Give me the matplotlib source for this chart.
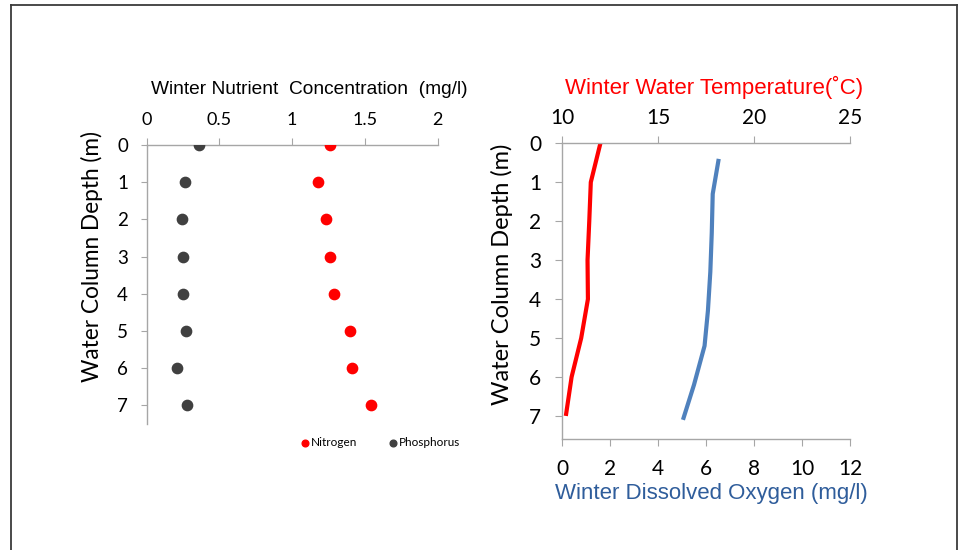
import matplotlib.pyplot as plt
from matplotlib.lines import Line2D

# Colours
RED = '#FF0000'
DARK = '#404040'
BLUE = '#4F81BD'
BLUE_TXT = '#2F5D9B'
SPINE = '#A6A6A6'

# Nutrient profile (left panel)
depth = [0, 1, 2, 3, 4, 5, 6, 7]
nitrogen = [1.26, 1.18, 1.23, 1.26, 1.29, 1.40, 1.41, 1.54]
phosphorus = [0.36, 0.26, 0.24, 0.25, 0.25, 0.27, 0.21, 0.28]

# Temperature profile (right panel, top axis)
temp = [12.0, 11.5, 11.42, 11.33, 11.35, 11.0, 10.5, 10.2]

# Dissolved oxygen profile (right panel, bottom axis)
do_depth = [0.4, 1.3, 2.3, 3.3, 4.3, 5.2, 6.2, 7.1]
do_vals = [6.53, 6.28, 6.24, 6.18, 6.08, 5.94, 5.5, 5.04]

TICK_FONT = 'Lato'
TITLE_FONT = 'Liberation Sans'

W, H = 961, 550
fig = plt.figure(figsize=(W / 100, H / 100), dpi=100)


def px_box(x0, x1, y0, y1):
    return [x0 / W, 1 - y1 / H, (x1 - x0) / W, (y1 - y0) / H]


def style_spines(ax, visible):
    for side, sp in ax.spines.items():
        sp.set_visible(side in visible)
        sp.set_color(SPINE)
        sp.set_linewidth(1.0)


# ---------- left panel ----------
ax1 = fig.add_axes(px_box(146.7, 437.7, 145, 424))
ax1.scatter(nitrogen, depth, s=55, color=RED, zorder=3, label='Nitrogen')
ax1.scatter(phosphorus, depth, s=55, color=DARK, zorder=3, label='Phosphorus')
ax1.set_xlim(0, 2)
ax1.set_ylim(7.5, 0)
ax1.xaxis.tick_top()
ax1.set_xticks([0, 0.5, 1, 1.5, 2])
ax1.set_xticklabels(['0', '0.5', '1', '1.5', '2'])
ax1.set_yticks(depth)
style_spines(ax1, ['top', 'left'])
ax1.tick_params(axis='x', direction='out', length=5, color=SPINE, pad=7,
                labelsize=13, labelcolor='black')
ax1.tick_params(axis='y', direction='out', length=4.5, color=SPINE, pad=9,
                labelsize=13.5, labelcolor='black')
for lab in ax1.get_xticklabels() + ax1.get_yticklabels():
    lab.set_family(TICK_FONT)
fig.text(0.5 * (151 + 468) / W, 1 - 90 / H, 'Winter Nutrient  Concentration  (mg/l)',
         ha='center', va='center', fontsize=13.8, family=TITLE_FONT)
fig.text(92 / W, 1 - 257 / H, 'Water Column Depth (m)', rotation=90,
         ha='center', va='center', fontsize=16.3, family=TICK_FONT)

leg = ax1.legend(loc='center', bbox_to_anchor=(380 / W, 1 - 443 / H),
                 bbox_transform=fig.transFigure, ncol=2, frameon=False,
                 fontsize=8.5, handletextpad=0.1, columnspacing=2.6,
                 handlelength=0.8, markerscale=0.65)
for t in leg.get_texts():
    t.set_family(TICK_FONT)

# ---------- right panel ----------
ax2 = fig.add_axes(px_box(562, 850, 143.3, 439.3))
ax2.plot(do_vals, do_depth, color=BLUE, lw=3, solid_capstyle='butt')
ax2.set_xlim(0, 12)
ax2.set_ylim(7.6, 0)
ax2.set_xticks(range(0, 13, 2))
ax2.set_yticks(depth)
style_spines(ax2, ['bottom', 'left'])
ax2.tick_params(axis='x', direction='out', length=5, color=SPINE, pad=9,
                labelsize=15)
ax2.tick_params(axis='y', direction='out', length=5, color=SPINE, pad=10,
                labelsize=15)
for lab in ax2.get_xticklabels() + ax2.get_yticklabels():
    lab.set_family(TICK_FONT)

ax3 = ax2.twiny()
ax3.plot(temp, depth, color=RED, lw=3, solid_capstyle='butt')
ax3.set_xlim(10, 25)
ax3.set_xticks([10, 15, 20, 25])
style_spines(ax3, ['top'])
ax3.tick_params(axis='x', direction='out', length=5, color=SPINE, pad=6,
                labelsize=15)
for lab in ax3.get_xticklabels():
    lab.set_family(TICK_FONT)

fig.text(714 / W, 1 - 87 / H, 'Winter Water Temperature(\u02daC)', color=RED,
         ha='center', va='center', fontsize=16, family=TITLE_FONT)
fig.text(711 / W, 1 - 493 / H, 'Winter Dissolved Oxygen (mg/l)', color=BLUE_TXT,
         ha='center', va='center', fontsize=16, family=TITLE_FONT)
fig.text(502 / W, 1 - 274 / H, 'Water Column Depth (m)', rotation=90,
         ha='center', va='center', fontsize=17, family=TICK_FONT)

# frame around the picture
frame = dict(color='#3A3A3A', lw=1.3, transform=fig.transFigure)
fig.add_artist(Line2D([11 / W, 11 / W], [0, 1 - 5 / H], **frame))
fig.add_artist(Line2D([11 / W, 957 / W], [1 - 5 / H, 1 - 5 / H], **frame))
fig.add_artist(Line2D([957 / W, 957 / W], [0, 1 - 5 / H], **frame))

fig.savefig('out.png', dpi=100, facecolor='white')
